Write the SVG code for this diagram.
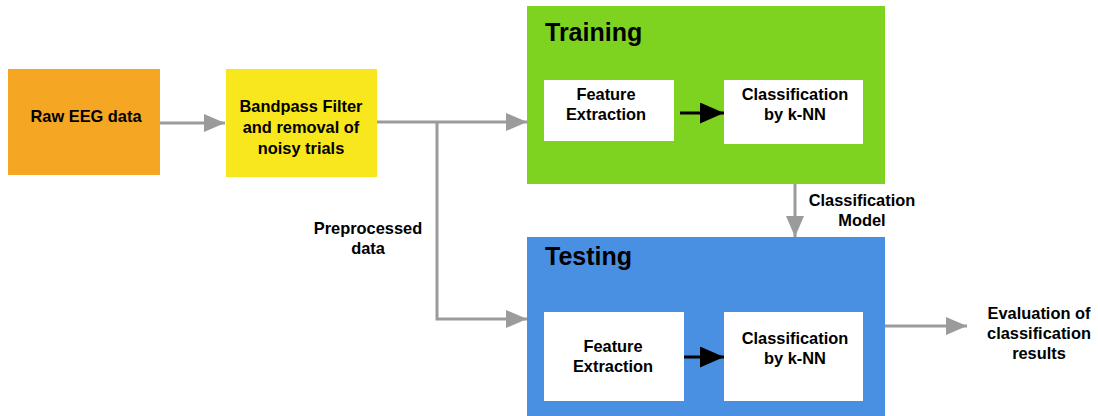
<svg xmlns="http://www.w3.org/2000/svg" width="1098" height="416" viewBox="0 0 1098 416">
  <defs>
    <marker id="grey-head" markerWidth="7" markerHeight="6" refX="7" refY="3" orient="auto" markerUnits="strokeWidth">
      <path d="M0,0 L7,3 L0,6 Z" fill="#9B9B9B"/>
    </marker>
    <marker id="black-head" markerWidth="8" markerHeight="7" refX="8" refY="3.5" orient="auto" markerUnits="strokeWidth">
      <path d="M0,0 L8,3.5 L0,7 Z" fill="#000"/>
    </marker>
  </defs>
  <style>
    text { font-family: "Liberation Sans", Arial, sans-serif; font-weight: bold; fill: #000; }
    .lbl { font-size: 16.4px; text-anchor: middle; }
    .title { font-size: 25px; }
    .grey-arrow { fill: none; stroke: #9B9B9B; stroke-width: 3; marker-end: url(#grey-head); }
    .black-arrow { fill: none; stroke: #000; stroke-width: 3; marker-end: url(#black-head); }
    .inner { fill: #FFFFFF; }
  </style>

  <rect width="1098" height="416" fill="#FFFFFF"/>

  <!-- flow connectors -->
  <g id="connectors">
    <line class="grey-arrow" x1="160" y1="123" x2="225" y2="123"/>
    <line class="grey-arrow" x1="377" y1="122" x2="527" y2="122"/>
    <polyline class="grey-arrow" points="437,122 437,319 527,319"/>
    <line class="grey-arrow" x1="795" y1="184" x2="795" y2="237"/>
    <line class="grey-arrow" x1="885" y1="326" x2="967" y2="326"/>
    <text class="lbl" x="368" y="234">Preprocessed</text>
    <text class="lbl" x="368" y="254">data</text>
    <text class="lbl" x="862" y="206">Classification</text>
    <text class="lbl" x="862" y="226">Model</text>
  </g>

  <g id="raw-eeg">
    <rect x="8" y="69" width="152" height="106" fill="#F5A623"/>
    <text class="lbl" x="86" y="122">Raw EEG data</text>
  </g>

  <g id="bandpass">
    <rect x="226" y="69" width="151" height="108" fill="#F8E71C"/>
    <text class="lbl" x="301" y="112">Bandpass Filter</text>
    <text class="lbl" x="301" y="133">and removal of</text>
    <text class="lbl" x="301" y="154">noisy trials</text>
  </g>

  <g id="training">
    <rect x="527" y="6" width="358" height="178" fill="#7ED321"/>
    <text class="title" x="545" y="41">Training</text>
    <rect class="inner" x="544" y="80" width="130" height="61"/>
    <text class="lbl" x="606" y="100">Feature</text>
    <text class="lbl" x="606" y="120">Extraction</text>
    <rect class="inner" x="724" y="80" width="139" height="64"/>
    <text class="lbl" x="795" y="100">Classification</text>
    <text class="lbl" x="795" y="120">by k-NN</text>
    <line class="black-arrow" x1="680" y1="113" x2="724" y2="113"/>
  </g>

  <g id="testing">
    <rect x="527" y="237" width="358" height="179" fill="#4A90E2"/>
    <text class="title" x="545" y="265">Testing</text>
    <rect class="inner" x="544" y="312" width="140" height="89"/>
    <text class="lbl" x="613" y="352">Feature</text>
    <text class="lbl" x="613" y="372">Extraction</text>
    <rect class="inner" x="724" y="312" width="139" height="89"/>
    <text class="lbl" x="795" y="344">Classification</text>
    <text class="lbl" x="795" y="364">by k-NN</text>
    <line class="black-arrow" x1="684" y1="357" x2="724" y2="357"/>
  </g>

  <g id="evaluation">
    <text class="lbl" x="1039" y="319">Evaluation of</text>
    <text class="lbl" x="1039" y="339">classification</text>
    <text class="lbl" x="1039" y="359">results</text>
  </g>
</svg>
